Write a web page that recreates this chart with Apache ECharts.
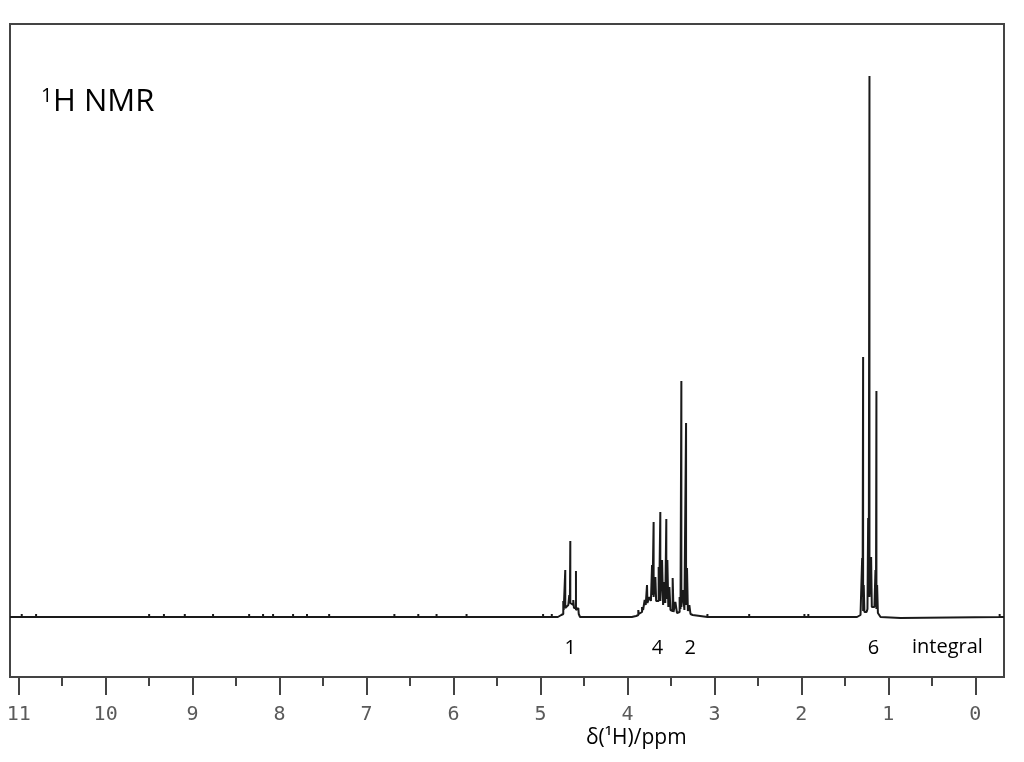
<!DOCTYPE html>
<html>
<head>
<meta charset="utf-8">
<script src="https://cdn.jsdelivr.net/npm/echarts@6/dist/echarts.min.js"></script>
<style>
html,body{margin:0;padding:0;background:#fff;}
#chart{width:1024px;height:762px;}
</style>
</head>
<body>
<div id="chart"></div>
<script>
// ---- data (chemical shift in ppm, intensity in arbitrary units) ----
const majorTicks = [0, 1, 2, 3, 4, 5, 6, 7, 8, 9, 10, 11];
const minorTicks = [0.5, 1.5, 2.5, 3.5, 4.5, 5.5, 6.5, 7.5, 8.5, 9.5, 10.5];

// small noise blips along the baseline: [ppm, intensity]
const noisePeaks = [
  [10.965, 3], [10.80, 3], [9.50, 3], [9.33, 3], [9.09, 3], [8.765, 3], [8.35, 3],
  [8.19, 3], [8.075, 3], [7.845, 3], [7.685, 3], [7.43, 3], [6.68, 3], [6.405, 3],
  [6.195, 3], [5.85, 3], [4.97, 3], [4.87, 3], [3.08, 3], [2.60, 3], [1.965, 3],
  [1.92, 3], [1.414, -2], [-0.28, 3]
];

// trace of the multiplet near 4.66 ppm
const cluster1 = [
  [4.800,0],[4.761,2],[4.738,3],[4.738,16],[4.733,7],[4.715,7],[4.715,47],[4.715,9],
  [4.700,10],[4.680,12],[4.669,13],[4.669,22],[4.662,15],[4.657,15],[4.657,76],[4.657,14],
  [4.646,12],[4.623,12],[4.623,17],[4.615,9],[4.592,9],[4.592,46],[4.592,7],[4.575,6],
  [4.565,9],[4.560,3],[4.545,0]
];

// trace of the multiplets between 3.3 and 3.9 ppm
const cluster2 = [
  [3.950,0],[3.900,1],[3.875,2],[3.875,7],[3.870,3],[3.850,4],[3.832,5],[3.832,10],
  [3.820,7],[3.802,8],[3.802,17],[3.790,12],[3.775,12],[3.775,32],[3.770,14],[3.748,14],
  [3.748,20],[3.730,16],[3.717,18],[3.717,52],[3.712,22],[3.699,22],[3.699,95],[3.699,20],
  [3.679,18],[3.679,40],[3.670,16],[3.641,16],[3.641,50],[3.635,18],[3.622,18],[3.622,105],
  [3.622,16],[3.602,14],[3.602,57],[3.590,12],[3.576,12],[3.576,35],[3.565,14],[3.553,14],
  [3.553,98],[3.553,18],[3.541,18],[3.541,57],[3.530,10],[3.518,8],[3.518,30],[3.505,7],
  [3.480,6],[3.480,39],[3.470,5],[3.449,4],[3.449,15],[3.430,4],[3.400,5],[3.400,20],
  [3.390,8],[3.380,8],[3.380,236],[3.380,10],[3.365,9],[3.365,27],[3.345,7],[3.326,7],
  [3.326,194],[3.326,12],[3.315,10],[3.315,49],[3.305,6],[3.288,4],[3.288,12],[3.275,3],
  [3.250,2],[3.230,0]
];

// trace of the triplet near 1.22 ppm
const cluster3 = [
  [1.360,0],[1.320,2],[1.301,3],[1.301,59],[1.296,20],[1.290,20],[1.290,260],[1.290,6],
  [1.283,6],[1.283,32],[1.275,5],[1.250,5],[1.240,8],[1.232,8],[1.232,99],[1.225,30],
  [1.217,30],[1.217,541],[1.217,20],[1.198,20],[1.198,60],[1.190,10],[1.175,8],[1.160,10],
  [1.148,10],[1.148,47],[1.142,20],[1.137,20],[1.137,226],[1.137,8],[1.129,8],[1.129,32],
  [1.120,4],[1.105,2],[1.090,0],[1.085,-1],[0.860,-1],[0.855,0]
];

const integralShift = [4.659, 3.656, 3.277, 1.171];
const integralValue = ['1', '4', '2', '6'];

// ---- build the trace ----
let trace = [[11.1, 0], [-0.33, 0]];
noisePeaks.forEach(function (p) { trace.push([p[0], 0], [p[0], p[1]], [p[0], 0]); });
trace = trace.concat(cluster1, cluster2, cluster3);
trace = trace.map(function (p, i) { return [p[0], p[1], i]; });
trace.sort(function (a, b) { return (b[0] - a[0]) || (a[2] - b[2]); });
trace = trace.map(function (p) { return [p[0], p[1]]; });

const integralData = integralShift.map(function (s, i) { return [s, -31, integralValue[i]]; });

const chart = echarts.init(document.getElementById('chart'), null, { renderer: 'canvas' });
const axisCommon = {
  type: 'value', min: -0.33, max: 11.1, inverse: true, position: 'bottom',
  axisLine: { show: false, onZero: false }, splitLine: { show: false }
};
chart.setOption({
  animation: false,
  backgroundColor: '#fff',
  grid: { left: 10, right: 20, top: 24, bottom: 85, show: true, borderColor: '#444', borderWidth: 2 },
  xAxis: [
    Object.assign({}, axisCommon, {
      axisTick: { show: true, customValues: majorTicks, length: 18, lineStyle: { color: '#444', width: 2 } },
      axisLabel: { show: true, customValues: majorTicks, margin: 28, fontFamily: 'DejaVu Sans Mono', fontSize: 20, color: '#5a5a5a' }
    }),
    Object.assign({}, axisCommon, {
      axisTick: { show: true, customValues: minorTicks, length: 9, lineStyle: { color: '#444', width: 2 } },
      axisLabel: { show: false }
    })
  ],
  yAxis: { type: 'value', min: -60, max: 593, show: false },
  series: [
    {
      type: 'line', data: trace, showSymbol: false, symbol: 'none', sampling: null,
      lineStyle: { color: '#1a1a1a', width: 2 }, silent: true
    },
    {
      type: 'scatter', data: integralData, symbolSize: 1, silent: true,
      itemStyle: { opacity: 0 },
      label: {
        show: true, position: 'inside', formatter: function (p) { return p.value[2]; },
        fontFamily: 'Open Sans', fontSize: 20, color: '#000', opacity: 1
      }
    }
  ],
  graphic: [
    { type: 'text', left: 41, top: 86, style: { text: '1', fontFamily: 'Open Sans', fontSize: 20, fill: '#000' } },
    { type: 'text', left: 53, top: 87, style: { text: 'H NMR', fontFamily: 'Open Sans', fontSize: 31, fill: '#000' } },
    { type: 'text', left: 912, top: 637, style: { text: 'integral', fontFamily: 'Open Sans', fontSize: 20, fill: '#000' } },
    { type: 'text', left: 586, top: 728, style: { text: 'δ(¹H)/ppm', fontFamily: 'Open Sans', fontSize: 21, fill: '#000' } }
  ]
});
</script>
</body>
</html>
